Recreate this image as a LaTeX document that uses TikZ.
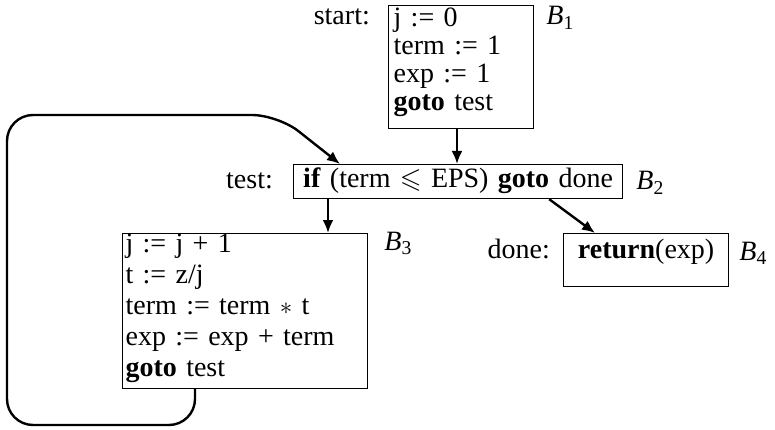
\documentclass[tikz,border=0pt]{standalone}
\usepackage{amssymb}
\usepackage{fontspec}
\setmainfont{Liberation Serif}
\usetikzlibrary{arrows.meta, positioning, calc}

\begin{document}
\begin{tikzpicture}[
    x=1pt, y=-1pt,
    font=\fontsize{28}{30}\selectfont,
    blk/.style={rectangle, draw, line width=1.2pt, anchor=north west, inner xsep=5pt, inner ysep=2pt},
    tag/.style={inner sep=0pt, anchor=base west},
    lab/.style={inner sep=0pt, anchor=base east},
    flow/.style={-{Latex[length=13pt, width=11pt]}, line width=2.4pt},
    loopflow/.style={flow, rounded corners=26pt}
]
    \useasboundingbox (0,0) rectangle (775,430);

    % Blocks
    \node[blk, text width=135pt, align=left, text height=19pt, text depth=100pt,
          font=\fontsize{28}{28}\selectfont] (b1) at (388,5)
        {j := 0\\ term := 1\\ exp := 1\\ \textbf{goto} test};
    \node[blk, text width=319pt, align=center, text height=21pt, text depth=9pt] (b2) at (293,164)
        {\textbf{if} (term $\leqslant$ EPS) \textbf{goto} done};
    \node[blk, inner xsep=3pt, text width=239pt, align=left, text height=17pt, text depth=134pt,
          font=\fontsize{28}{31}\selectfont] (b3) at (122,233)
        {j := j + 1\\ t := z/j\\ term := term $*$ t\\ exp := exp + term\\ \textbf{goto} test};
    \node[blk, text width=155pt, align=center, text height=23pt, text depth=26pt] (b4) at (563,233)
        {\textbf{return}(exp)};

    % Labels and block names
    \node[lab] (startlbl) at ($(b1.north west)+(-18,20)$) {start:};
    \node[tag] (b1tag) at ($(b1.north east)+(12,20)$) {\textit{B}\textsubscript{1}};
    \node[lab] (testlbl) at ($(b2.north west)+(-20,25)$) {test:};
    \node[tag] (b2tag) at ($(b2.north east)+(13,26)$) {\textit{B}\textsubscript{2}};
    \node[tag] (b3tag) at ($(b3.north east)+(16,17)$) {\textit{B}\textsubscript{3}};
    \node[lab] (donelbl) at ($(b4.north west)+(-13,25)$) {done:};
    \node[tag] (b4tag) at ($(b4.north east)+(10,27)$) {\textit{B}\textsubscript{4}};

    % Loop corners
    \coordinate (lpbot) at (7,425);
    \coordinate (lptop) at (7,115);
    \coordinate (lpbend) at (278,115);

    % Arrows
    \draw[flow] ([xshift=69pt]b1.south west) -- ([xshift=69pt]b1.south west |- b2.north);
    \draw[flow] ([xshift=35pt]b2.south west) -- ([xshift=35pt]b2.south west |- b3.north);
    \draw[flow] ([xshift=-74pt]b2.south east) -- ([xshift=32pt]b4.north west);
    \draw[loopflow] ([xshift=73pt]b3.south west) |- (lpbot) -- (lptop) -- (lpbend) -- ([xshift=47pt]b2.north west);

\end{tikzpicture}
\end{document}
